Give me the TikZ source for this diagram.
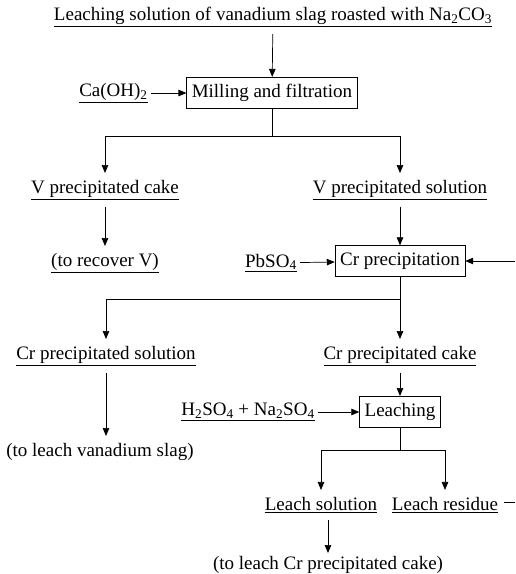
\documentclass[tikz,border=0pt]{standalone}
\usepackage{fontspec}
\setmainfont{Liberation Serif}
\usetikzlibrary{arrows.meta}

\tikzset{
  box/.style={draw, inner xsep=5pt, inner ysep=7pt},
  lbl/.style={inner xsep=3pt, inner ysep=7pt},
}

\begin{document}
\begin{tikzpicture}[x=1pt,y=-1pt,line width=0.7pt,
    >={Triangle[length=8pt,width=6.5pt]},
    font=\fontsize{19}{22}\selectfont]
        \useasboundingbox (0,0) rectangle (515,574);

        % input and first step
        \draw (273,17) node[lbl] (feed) {\underline{Leaching solution of vanadium slag roasted with Na\textsubscript{2}CO\textsubscript{3}}};
        \draw (272,93) node[box] (mill) {Milling and filtration};
        \draw (151,93) node[lbl,anchor=east] (caoh) {\underline{Ca(OH)\textsubscript{2}}};
        \coordinate (split1) at (272,136);

        \draw (105,190) node[lbl] (vcake) {\underline{V precipitated cake}};
        \draw (400,190) node[lbl] (vsol) {\underline{V precipitated solution}};
        \draw (105,263) node[lbl] (recv) {\underline{(to recover V)}};

        % Cr precipitation
        \draw (400,261) node[box] (crp) {Cr precipitation};
        \draw (300,263) node[lbl,anchor=east] (pbso) {\underline{PbSO\textsubscript{4}}};
        \coordinate (back1) at (515,261);
        \coordinate (split2) at (400,299);

        \draw (106,356) node[lbl] (crsol) {\underline{Cr precipitated solution}};
        \draw (400,356) node[lbl] (crcake) {\underline{Cr precipitated cake}};
        \draw (100,452) node[lbl] (slag) {(to leach vanadium slag)};

        % leaching
        \draw (400,412) node[box] (leach) {Leaching};
        \draw (318,412) node[lbl,anchor=east] (acid) {\underline{H\textsubscript{2}SO\textsubscript{4} + Na\textsubscript{2}SO\textsubscript{4}}};
        \coordinate (split3) at (400,450);

        \draw (321,505) node[lbl] (lsol) {\underline{Leach solution}};
        \draw (445,505) node[lbl] (lres) {\underline{Leach residue}};
        \coordinate (back2) at (515,502);
        \draw (328,565) node[lbl,inner ysep=3pt] (tocake) {(to leach Cr precipitated cake)};

        % connectors
        \draw[->] (feed) -- (mill);
        \draw[->] (caoh) -- (mill);
        \draw (mill) -- (split1);
        \draw[->] (split1) -| (vcake);
        \draw[->] (split1) -| (vsol);
        \draw[->] (vcake) -- (recv);
        \draw[->] (vsol) -- (crp);
        \draw[->] (pbso) -- (crp);
        \draw[->] (back1) -- (crp);
        \draw (crp) -- (split2);
        \draw[->] (split2) -| (crsol);
        \draw[->] (split2) -- (crcake);
        \draw[->] (crsol.south) -- (crsol.south |- slag.north);
        \draw[->] (crcake) -- (leach);
        \draw[->] (acid) -- (leach);
        \draw (leach) -- (split3);
        \draw[->] (split3) -| (lsol);
        \draw[->] (split3) -| (lres);
        \draw[->] (lsol.south -| tocake.north) -- (tocake.north);
        \draw (lres.east) ++(3,-3) -- (back2);
    \end{tikzpicture}
\end{document}
